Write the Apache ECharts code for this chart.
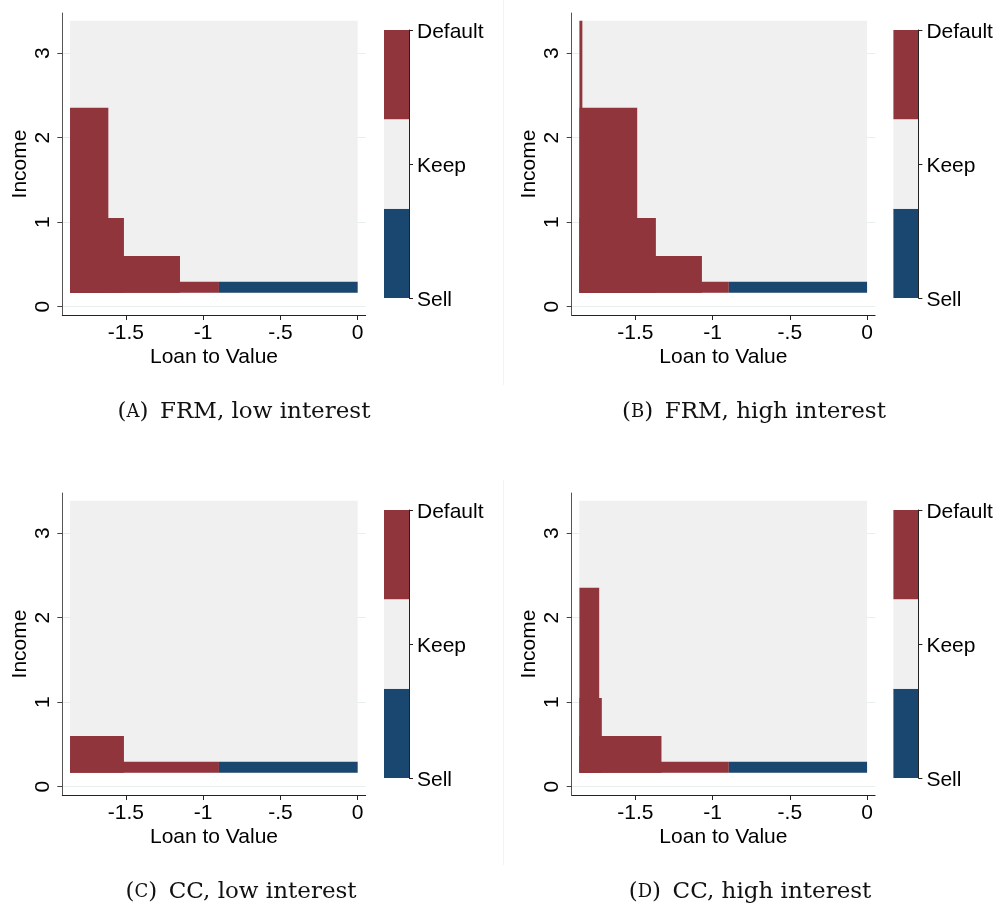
<!DOCTYPE html>
<html>
<head>
<meta charset="utf-8">
<script src="https://cdn.jsdelivr.net/npm/echarts@6/dist/echarts.min.js"></script>
<style>
  html, body { margin: 0; padding: 0; background: #fff; }
  #chart { width: 997px; height: 905px; }
</style>
</head>
<body>
<div id="chart"></div>
<script>
// Household decision regions on the (loan-to-value, income) state grid.
const stateNames = ['Sell', 'Keep', 'Default'];
const stateColors = ['#1a476f', '#f0f0f0', '#90353b'];

// Extent of the computed state grid
const ltvRange = [-1.862, 0];
const incomeRange = [0.166, 3.385];

// Axis ticks
const xTicks = [-1.5, -1, -0.5, 0];
const yTicks = [0, 1, 2, 3];

// Panel captions
const captionLetters = ['A', 'B', 'C', 'D'];
const captionTexts = ['FRM, low interest', 'FRM, high interest', 'CC, low interest', 'CC, high interest'];

// Default region per panel: LTV column edges and the income ceiling of each column.
// The Sell region runs from the last edge to LTV = 0, up to sellTop.
const frmLowEdges  = [-1.862, -1.614, -1.513, -1.150, -0.898];
const frmLowTops   = [2.355, 1.05, 0.60, 0.296];
const frmHighEdges = [-1.862, -1.843, -1.488, -1.367, -1.069, -0.895];
const frmHighTops  = [3.385, 2.355, 1.05, 0.60, 0.296];
const ccLowEdges   = [-1.862, -1.513, -0.898];
const ccLowTops    = [0.60, 0.296];
const ccHighEdges  = [-1.862, -1.734, -1.717, -1.331, -0.895];
const ccHighTops   = [2.355, 1.05, 0.60, 0.296];
const sellTop = 0.296;

// Colour key bands: [low, high, state]
const keyBands = [[0, 1, 0], [1, 2, 1], [2, 3, 2]];

const panels = [
  { edges: frmLowEdges, tops: frmLowTops },
  { edges: frmHighEdges, tops: frmHighTops },
  { edges: ccLowEdges, tops: ccLowTops },
  { edges: ccHighEdges, tops: ccHighTops }
];

// Cells as [ltv0, ltv1, inc0, inc1, state]. Default columns are drawn from the
// left edge of the grid, tallest first, so the staircase has no seams.
function regionCells(edges, tops) {
  const cells = [[ltvRange[0], ltvRange[1], incomeRange[0], incomeRange[1], 1]];
  for (let i = 0; i < tops.length; i++) {
    cells.push([edges[0], edges[i + 1], incomeRange[0], tops[i], 2]);
  }
  cells.push([edges[edges.length - 1], ltvRange[1], incomeRange[0], sellTop, 0]);
  return cells;
}

const FONT = '"Liberation Sans", Arial, Helvetica, sans-serif';
const SERIF = '"DejaVu Serif", "Liberation Serif", serif';
const FS = 21;

const dx = 509.4, dy = 480;
const plotBox = { left: 62.3, top: 13, width: 303.4, height: 302 };
const keyBox = { left: 384, top: 30, width: 25, height: 268 };
const captionX = [244, 754, 241, 750];
const captionY = [412, 412, 892, 892];

function fmtTick(v) {
  return String(v).replace(/^(-?)0\./, '$1.');
}

function rectItem(params, api) {
  const p0 = api.coord([api.value(0), api.value(3)]);
  const p1 = api.coord([api.value(1), api.value(2)]);
  return {
    type: 'rect',
    shape: { x: p0[0], y: p0[1], width: p1[0] - p0[0], height: p1[1] - p0[1] },
    style: { fill: stateColors[api.value(4)] }
  };
}

function keyItem(params, api) {
  const p0 = api.coord([0, api.value(1)]);
  const p1 = api.coord([1, api.value(0)]);
  return {
    type: 'rect',
    shape: { x: p0[0], y: p0[1], width: p1[0] - p0[0], height: p1[1] - p0[1] },
    style: { fill: stateColors[api.value(2)] }
  };
}

const grid = [], xAxis = [], yAxis = [], series = [], graphic = [];

panels.forEach((pn, i) => {
  const ox = (i % 2) * dx, oy = Math.floor(i / 2) * dy;
  const g = grid.length;
  grid.push({ left: plotBox.left + ox, top: plotBox.top + oy, width: plotBox.width, height: plotBox.height });
  xAxis.push({
    gridIndex: g, type: 'value', min: -1.912, max: 0.052,
    axisLine: { show: true, onZero: false, lineStyle: { color: '#222', width: 1 } },
    axisTick: { show: true, length: 5, customValues: xTicks, lineStyle: { color: '#222' } },
    axisLabel: { customValues: xTicks, formatter: fmtTick, fontSize: FS, fontFamily: FONT, color: '#000', margin: 8 },
    splitLine: { show: false },
    name: 'Loan to Value', nameLocation: 'middle', nameGap: 32,
    nameTextStyle: { fontSize: FS, fontFamily: FONT, color: '#000' }
  });
  yAxis.push({
    gridIndex: g, type: 'value', min: -0.098, max: 3.476,
    axisLine: { show: true, onZero: false, lineStyle: { color: '#555', width: 1 } },
    axisTick: { show: true, length: 5, customValues: yTicks, lineStyle: { color: '#444' } },
    axisLabel: { customValues: yTicks, rotate: 90, fontSize: FS, fontFamily: FONT, color: '#000', margin: 9 },
    splitLine: { show: true, lineStyle: { color: '#e8eeee', width: 1 } },
    name: 'Income', nameLocation: 'middle', nameGap: 32, nameRotate: 90,
    nameTextStyle: { fontSize: FS, fontFamily: FONT, color: '#000' }
  });
  series.push({
    type: 'custom', xAxisIndex: g, yAxisIndex: g,
    renderItem: rectItem,
    data: regionCells(pn.edges, pn.tops),
    silent: true
  });

  const k = grid.length;
  grid.push({ left: keyBox.left + ox, top: keyBox.top + oy, width: keyBox.width, height: keyBox.height });
  xAxis.push({ gridIndex: k, type: 'value', min: 0, max: 1, show: false });
  yAxis.push({
    gridIndex: k, type: 'value', position: 'right', min: 0, max: 3, interval: 1.5, z: 5,
    axisLine: { show: true, onZero: false, lineStyle: { color: '#222', width: 1 } },
    axisTick: { show: true, length: 4, lineStyle: { color: '#222' } },
    axisLabel: {
      fontSize: FS, fontFamily: FONT, color: '#000', margin: 8,
      formatter: v => '{s|' + stateNames[Math.round(v / 1.5)] + '}',
      rich: { s: { fontSize: FS, fontFamily: FONT, color: '#000', padding: [4, 0, 0, 0] } }
    },
    splitLine: { show: false }
  });
  series.push({
    type: 'custom', xAxisIndex: k, yAxisIndex: k,
    renderItem: keyItem,
    data: keyBands,
    silent: true
  });

  graphic.push({
    type: 'text',
    x: captionX[i], y: captionY[i],
    style: {
      text: '{p|(}{sc|' + captionLetters[i] + '}{p|)\u2002' + captionTexts[i] + '}',
      align: 'center', verticalAlign: 'middle',
      rich: {
        p: { fontFamily: SERIF, fontSize: 23, fill: '#111' },
        sc: { fontFamily: SERIF, fontSize: 18, fill: '#111' }
      }
    }
  });
});

// faint divider between the left and right columns
graphic.push({ type: 'line', shape: { x1: 503.5, y1: 0, x2: 503.5, y2: 385 }, style: { stroke: '#f3f3f3', lineWidth: 1 } });
graphic.push({ type: 'line', shape: { x1: 503.5, y1: 480, x2: 503.5, y2: 865 }, style: { stroke: '#f3f3f3', lineWidth: 1 } });

const chart = echarts.init(document.getElementById('chart'), null, { renderer: 'canvas' });
chart.setOption({
  backgroundColor: '#fff',
  animation: false,
  grid, xAxis, yAxis, series, graphic
});
</script>
</body>
</html>
